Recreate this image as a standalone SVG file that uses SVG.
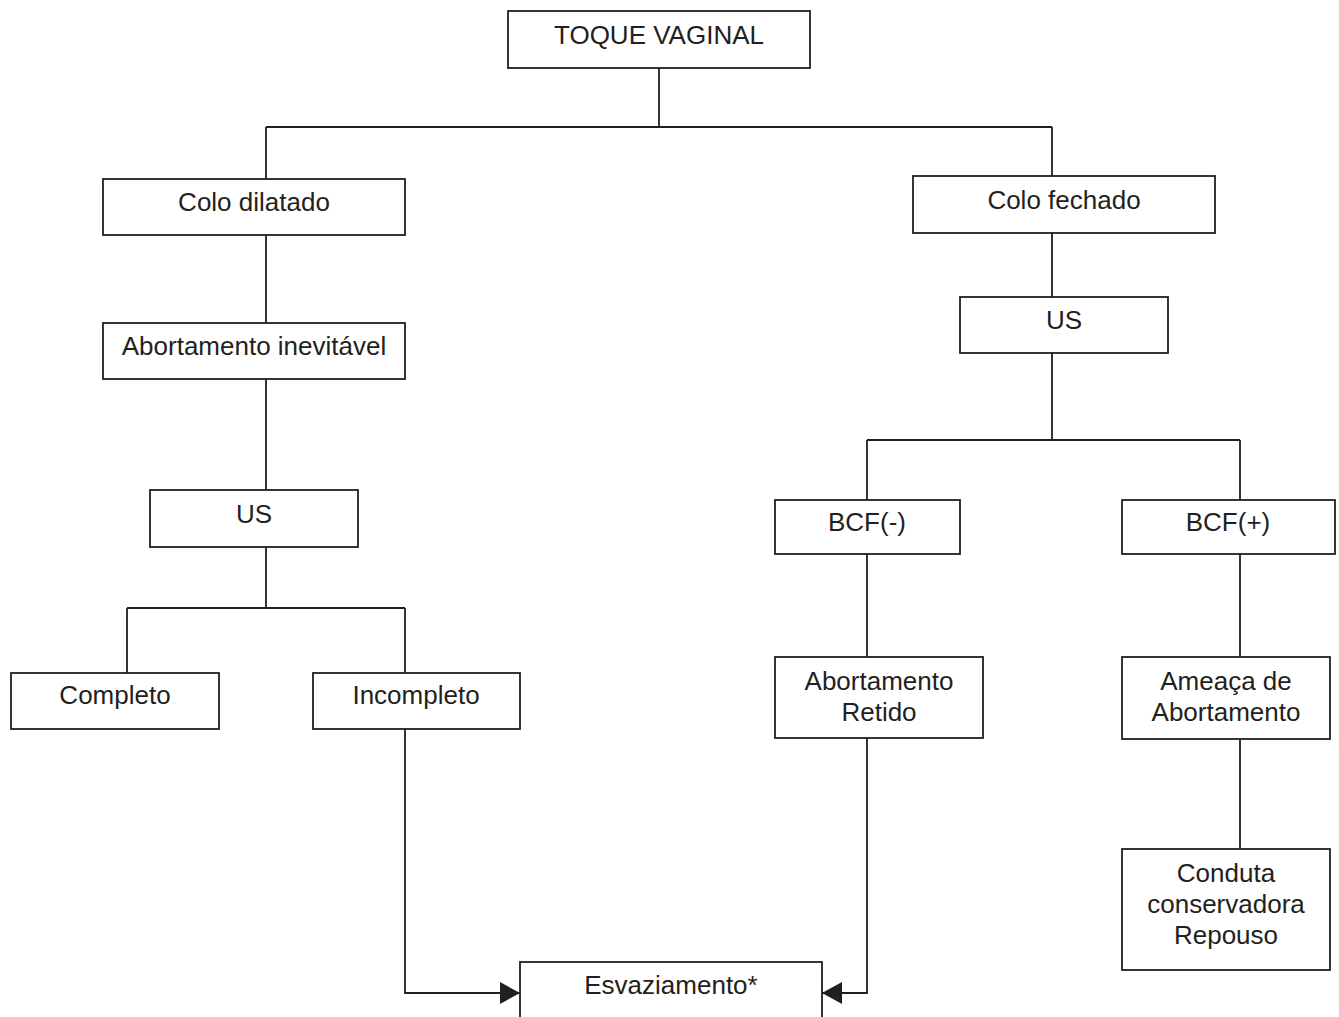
<svg xmlns="http://www.w3.org/2000/svg" width="1339" height="1017" viewBox="0 0 1339 1017">
  <defs>
    <style>
      .box { fill: #ffffff; stroke: #231f20; stroke-width: 1.8; }
      .lbl { font-family: "Liberation Sans", Arial, sans-serif; font-size: 26px; fill: #231f20; text-anchor: middle; }
      .wire { fill: none; stroke: #231f20; stroke-width: 1.8; }
    </style>
    <marker id="arrow" viewBox="0 0 20 22" refX="20" refY="11" markerWidth="20" markerHeight="22" markerUnits="userSpaceOnUse" orient="auto">
      <path d="M0,0 L20,11 L0,22 Z" fill="#231f20"/>
    </marker>
  </defs>
  <rect width="1339" height="1017" fill="#ffffff"/>

  <!-- connectors -->
  <g id="connectors" class="wire">
    <path d="M659,68 V127 M266,127 H1052 M266,127 V179 M1052,127 V176"/>
    <path d="M266,235 V323 M266,379 V490 M266,547 V608 M127,608 H405 M127,608 V673 M405,608 V673"/>
    <path d="M1052,233 V297 M1052,353 V440 M867,440 H1240 M867,440 V500 M1240,440 V500"/>
    <path d="M867,554 V657 M1240,554 V657 M1240,739 V849"/>
    <path d="M405,729 V993 H520" marker-end="url(#arrow)"/>
    <path d="M867,738 V993 H822" marker-end="url(#arrow)"/>
  </g>

  <g id="toque">
    <rect class="box" x="508" y="11" width="302" height="57"/>
    <text class="lbl" x="659" y="44">TOQUE VAGINAL</text>
  </g>
  <g id="colo-dilatado">
    <rect class="box" x="103" y="179" width="302" height="56"/>
    <text class="lbl" x="254" y="211">Colo dilatado</text>
  </g>
  <g id="colo-fechado">
    <rect class="box" x="913" y="176" width="302" height="57"/>
    <text class="lbl" x="1064" y="209">Colo fechado</text>
  </g>
  <g id="abort-inevitavel">
    <rect class="box" x="103" y="323" width="302" height="56"/>
    <text class="lbl" x="254" y="355">Abortamento inevitável</text>
  </g>
  <g id="us-right">
    <rect class="box" x="960" y="297" width="208" height="56"/>
    <text class="lbl" x="1064" y="329">US</text>
  </g>
  <g id="us-left">
    <rect class="box" x="150" y="490" width="208" height="57"/>
    <text class="lbl" x="254" y="523">US</text>
  </g>
  <g id="bcf-neg">
    <rect class="box" x="775" y="500" width="185" height="54"/>
    <text class="lbl" x="867" y="531">BCF(-)</text>
  </g>
  <g id="bcf-pos">
    <rect class="box" x="1122" y="500" width="213" height="54"/>
    <text class="lbl" x="1228" y="531">BCF(+)</text>
  </g>
  <g id="completo">
    <rect class="box" x="11" y="673" width="208" height="56"/>
    <text class="lbl" x="115" y="704">Completo</text>
  </g>
  <g id="incompleto">
    <rect class="box" x="313" y="673" width="207" height="56"/>
    <text class="lbl" x="416" y="704">Incompleto</text>
  </g>
  <g id="abort-retido">
    <rect class="box" x="775" y="657" width="208" height="81"/>
    <text class="lbl" x="879" y="690">Abortamento</text>
    <text class="lbl" x="879" y="721">Retido</text>
  </g>
  <g id="ameaca">
    <rect class="box" x="1122" y="657" width="208" height="82"/>
    <text class="lbl" x="1226" y="690">Ameaça de</text>
    <text class="lbl" x="1226" y="721">Abortamento</text>
  </g>
  <g id="conduta">
    <rect class="box" x="1122" y="849" width="208" height="121"/>
    <text class="lbl" x="1226" y="882">Conduta</text>
    <text class="lbl" x="1226" y="913">conservadora</text>
    <text class="lbl" x="1226" y="944">Repouso</text>
  </g>
  <g id="esvaziamento">
    <rect class="box" x="520" y="962" width="302" height="70"/>
    <text class="lbl" x="671" y="994">Esvaziamento*</text>
  </g>
</svg>
